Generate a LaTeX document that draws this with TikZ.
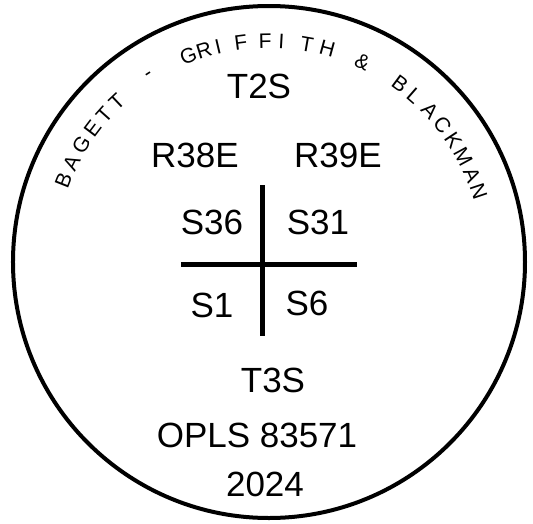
\documentclass[tikz,border=0pt]{standalone}
\usepackage{fontspec}
\setmainfont{Liberation Sans}
\tikzset{
  bigtext/.style={inner sep=0pt, font=\fontsize{35}{40}\selectfont},
  rimtext/.style={inner sep=0pt, font=\fontsize{21}{24}\selectfont},
}
\begin{document}
\begin{tikzpicture}[x=1pt, y=1pt]
    \useasboundingbox (-269,-261) rectangle (264,262);

    % Outer rim
    \draw[line width=4pt] (0,0) circle (256);

    % Maker's name round the rim
    \foreach \ch/\ang [count=\i] in {B/158.4, A/153.3, G/148.1, E/143.0, T/138.2, T/133.5,
        -/122.8, G/111.4, R/107.1, I/103.3, F/97.3, F/91.0, I/86.8, T/80.1, H/74.7,
        \&/65.0, B/53.6, L/48.9, A/43.3, C/38.3, K/33.5, M/28.5, A/23.2, N/18.5}
        \node[rimtext, rotate=\ang-90] (rim\i) at (\ang:221) {\ch};

    % Township and range
    \node[bigtext] (town) at (-10,176) {T2S};
    \node[bigtext] (rangew) at (-74,107) {R38E};
    \node[bigtext] (rangee) at (69,107) {R39E};

    % Section corner cross
    \draw[line width=5pt] (-6,77) -- (-6,-74);
    \draw[line width=5pt] (-88,-2) -- (88,-2);

    % Sections
    \node[bigtext] (secnw) at (-57,40) {S36};
    \node[bigtext] (secne) at (49,40) {S31};
    \node[bigtext] (secsw) at (-57,-43) {S1};
    \node[bigtext] (secse) at (38,-41) {S6};

    % Lower lines
    \node[bigtext] (towns) at (4,-118) {T3S};
    \node[bigtext] (lic) at (-12,-173) {OPLS 83571};
    \node[bigtext] (year) at (-4,-222) {2024};

\end{tikzpicture}
\end{document}
